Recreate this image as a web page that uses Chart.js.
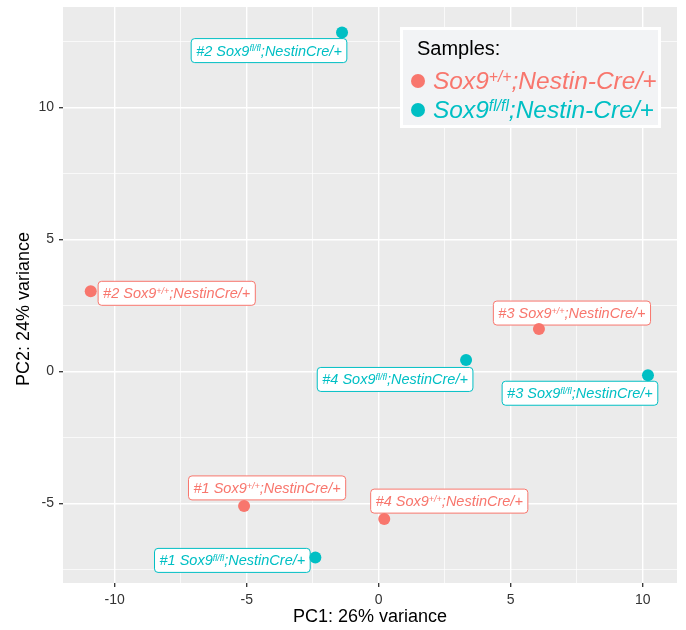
<!DOCTYPE html>
<html>
<head>
<meta charset="utf-8">
<script src="https://cdn.jsdelivr.net/npm/chart.js@4"></script>
<style>
  html, body { margin: 0; padding: 0; background: #fff; }
</style>
</head>
<body>
<canvas id="pca" width="686" height="630"></canvas>
<script>
// sample ids, shared by both genotypes
const sampleIds = ['#1', '#2', '#3', '#4'];
// genotype superscripts (Sox9^x;Nestin-Cre/+)
const genotypes = ['+/+', 'fl/fl'];

// PC coordinates
const wtPC1 = [-5.10, -10.91, 6.07, 0.21];
const wtPC2 = [-5.10, 3.03, 1.60, -5.60];
const koPC1 = [-2.40, -1.39, 10.20, 3.31];
const koPC2 = [-7.05, 12.83, -0.15, 0.43];

const xTicks = [-10, -5, 0, 5, 10];
const yTicks = [-5, 0, 5, 10];
const xRange = [-11.96, 11.30];
const yRange = [-8.02, 13.80];

const RED  = '#F8766D';
const TEAL = '#00BFC4';
const FONT = '"Liberation Sans", Arial, Helvetica, sans-serif';

// where each label box sits relative to its point (px, box centre) - repel layout
const labelShift = {
  wt: [[23, -18], [86, 2], [33, -16], [65, -18]],
  ko: [[-83, 3], [-73, 18], [-68, 18], [-71, 19.5]]
};

function minorOf(major, range) {
  const step = major[1] - major[0];
  const out = [];
  for (let i = -1; i < major.length; i++) {
    const v = (i < 0 ? major[0] - step : major[i]) + step / 2;
    if (v > range[0] && v < range[1]) out.push(v);
  }
  return out;
}

function richParts(pre, sup, post) {
  return [{ t: pre }, { t: sup, sup: true }, { t: post }];
}

function richWidth(ctx, parts, size, supScale) {
  let w = 0;
  parts.forEach(p => {
    ctx.font = 'italic ' + (p.sup ? size * supScale : size) + 'px ' + FONT;
    w += ctx.measureText(p.t).width;
  });
  return w;
}

function drawRich(ctx, parts, x, y, size, color, supScale) {
  ctx.fillStyle = color;
  ctx.textBaseline = 'alphabetic';
  ctx.textAlign = 'left';
  parts.forEach(p => {
    const s = p.sup ? size * supScale : size;
    ctx.font = 'italic ' + s + 'px ' + FONT;
    ctx.fillText(p.t, x, p.sup ? y - size * 0.3 : y);
    x += ctx.measureText(p.t).width;
  });
}

function roundBox(ctx, x, y, w, h, r) {
  ctx.beginPath();
  ctx.moveTo(x + r, y);
  ctx.arcTo(x + w, y, x + w, y + h, r);
  ctx.arcTo(x + w, y + h, x, y + h, r);
  ctx.arcTo(x, y + h, x, y, r);
  ctx.arcTo(x, y, x + w, y, r);
  ctx.closePath();
}

const panelBg = {
  id: 'panelBg',
  beforeDraw(chart) {
    const { ctx, chartArea: a } = chart;
    ctx.save();
    ctx.fillStyle = '#EBEBEB';
    ctx.fillRect(a.left, a.top, a.right - a.left, a.bottom - a.top);
    ctx.restore();
  }
};

const sampleLabels = {
  id: 'sampleLabels',
  beforeDatasetsDraw(chart) {
    const ctx = chart.ctx;
    const size = 14.5;
    ctx.save();
    chart.data.datasets.forEach((ds, di) => {
      const shifts = di === 0 ? labelShift.wt : labelShift.ko;
      const meta = chart.getDatasetMeta(di);
      meta.data.forEach((pt, i) => {
        const parts = richParts(sampleIds[i] + ' Sox9', genotypes[di], ';NestinCre/+');
        const tw = richWidth(ctx, parts, size, 0.62);
        const w = tw + 10, h = 24;
        const cx = pt.x + shifts[i][0], cy = pt.y + shifts[i][1];
        roundBox(ctx, cx - w / 2, cy - h / 2, w, h, 3.5);
        ctx.fillStyle = '#fff';
        ctx.fill();
        ctx.lineWidth = 1;
        ctx.strokeStyle = ds.backgroundColor;
        ctx.stroke();
        drawRich(ctx, parts, cx - tw / 2, cy + 5, size, ds.backgroundColor, 0.62);
      });
    });
    ctx.restore();
  }
};

const sampleLegend = {
  id: 'sampleLegend',
  afterDraw(chart) {
    const { ctx, chartArea: a } = chart;
    const w = 261, h = 101;
    const x = a.right - 16 - w, y = a.top + 20;
    ctx.save();
    ctx.fillStyle = '#fff';
    ctx.fillRect(x, y, w, h);
    ctx.fillStyle = '#F2F3F5';
    ctx.fillRect(x + 3, y + 3, w - 6, h - 6);
    ctx.fillStyle = '#000';
    ctx.font = '20px ' + FONT;
    ctx.textBaseline = 'alphabetic';
    ctx.fillText('Samples:', x + 17, y + 28);
    chart.data.datasets.forEach((ds, di) => {
      const rowY = y + 54 + di * 29;
      ctx.beginPath();
      ctx.arc(x + 18, rowY, 7, 0, Math.PI * 2);
      ctx.fillStyle = ds.backgroundColor;
      ctx.fill();
      drawRich(ctx, richParts('Sox9', genotypes[di], ';Nestin-Cre/+'), x + 33, rowY + 8, 24.5, ds.backgroundColor, 0.64);
    });
    ctx.restore();
  }
};

// y title drawn by hand: the original sits a bit below the panel centre
const yTitle = {
  id: 'yTitle',
  afterDraw(chart) {
    const ctx = chart.ctx;
    ctx.save();
    ctx.translate(24, 309);
    ctx.rotate(-Math.PI / 2);
    ctx.fillStyle = '#000';
    ctx.font = '18px ' + FONT;
    ctx.textAlign = 'center';
    ctx.textBaseline = 'middle';
    ctx.fillText('PC2: 24% variance', 0, 0);
    ctx.restore();
  }
};

const xAll = xTicks.concat(minorOf(xTicks, xRange)).sort((a, b) => a - b);
const yAll = yTicks.concat(minorOf(yTicks, yRange)).sort((a, b) => a - b);

function axis(major, all, range, extra) {
  return Object.assign({
    type: 'linear',
    min: range[0],
    max: range[1],
    afterBuildTicks: s => { s.ticks = all.map(v => ({ value: v })); },
    border: { display: false },
    grid: {
      color: '#FFFFFF',
      lineWidth: c => (c.tick && major.includes(c.tick.value)) ? 1.4 : 0.7,
      drawTicks: true,
      tickLength: 4,
      tickWidth: 1.3,
      tickColor: c => (c.tick && major.includes(c.tick.value)) ? '#333333' : 'rgba(0,0,0,0)'
    },
    ticks: {
      autoSkip: false,
      maxRotation: 0,
      color: '#333333',
      font: { family: FONT, size: 14 },
      callback: v => major.includes(v) ? String(v) : ''
    }
  }, extra);
}

const scales = {
  x: axis(xTicks, xAll, xRange, {
    position: 'bottom',
    title: { display: true, text: 'PC1: 26% variance', color: '#000',
             font: { family: FONT, size: 18 }, padding: { top: 0, bottom: 2 } },
    afterFit: s => { s.height = 47; s.paddingLeft = 0; s.paddingRight = 0; }
  }),
  y: axis(yTicks, yAll, yRange, {
    position: 'left',
    afterFit: s => { s.width = 63; s.paddingTop = 0; s.paddingBottom = 0; }
  })
};
scales.x.ticks.padding = 5;
scales.y.ticks.padding = 5;

new Chart(document.getElementById('pca'), {
  type: 'scatter',
  data: {
    datasets: [
      { label: 'Sox9+/+;Nestin-Cre/+', data: wtPC1.map((v, i) => ({ x: v, y: wtPC2[i] })),
        backgroundColor: RED, borderWidth: 0, pointRadius: 6, pointHoverRadius: 6 },
      { label: 'Sox9fl/fl;Nestin-Cre/+', data: koPC1.map((v, i) => ({ x: v, y: koPC2[i] })),
        backgroundColor: TEAL, borderWidth: 0, pointRadius: 6, pointHoverRadius: 6 }
    ]
  },
  options: {
    responsive: false,
    devicePixelRatio: 1,
    animation: false,
    layout: { padding: { top: 7, right: 9, left: 0, bottom: 0 } },
    plugins: { legend: { display: false }, tooltip: { enabled: false } },
    scales
  },
  plugins: [panelBg, sampleLabels, sampleLegend, yTitle]
});
</script>
</body>
</html>
